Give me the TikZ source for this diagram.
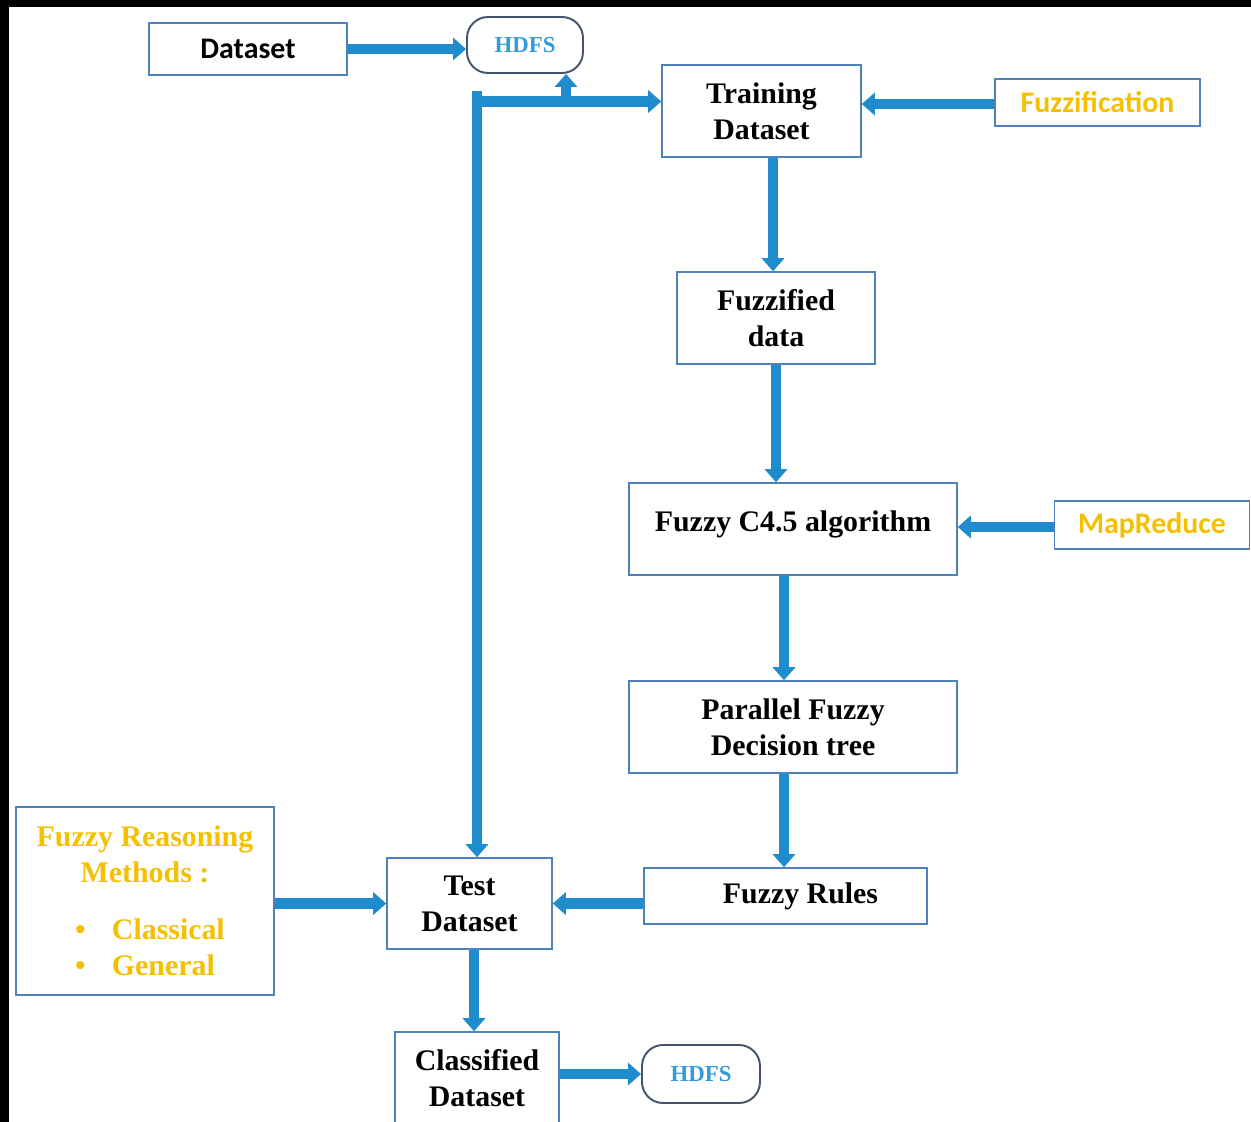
\documentclass[tikz,border=0pt]{standalone}
\usepackage{fontspec}
\setmainfont{Liberation Serif}
\newfontfamily\carlito{Carlito}
\usetikzlibrary{arrows.meta,calc}
\definecolor{arrowblue}{RGB}{30,140,205}
\definecolor{boxblue}{RGB}{79,129,189}
\definecolor{hdfsedge}{RGB}{68,84,106}
\definecolor{hdfstext}{RGB}{50,155,220}
\definecolor{fuzzyellow}{RGB}{245,192,0}
\begin{document}
\begin{tikzpicture}[x=0.02cm,y=-0.02cm,
 box/.style={draw=boxblue,line width=0.9pt,fill=white,inner sep=0pt,align=center,font=\fontsize{17}{20.5}\selectfont\bfseries},
 hdfs/.style={draw=hdfsedge,line width=1.1pt,rounded corners=0.42cm,fill=white,inner sep=0pt,font=\fontsize{13}{15}\selectfont\bfseries,text=hdfstext},
 flow/.style={draw=arrowblue,line width=0.21cm,-{Triangle[length=0.26cm,width=0.44cm]}},
 link/.style={draw=arrowblue,line width=0.21cm}]
\useasboundingbox (0,0) rectangle (1251,1122);
\fill[white] (0,0) rectangle (1251,1122);
\fill[black] (0,0) rectangle (1251,7);
\fill[black] (0,0) rectangle (9,1122);

% nodes
\node[box,minimum width=3.96cm,minimum height=1.04cm] (dataset) at (248,49) {\carlito Dataset};
\node[hdfs,minimum width=2.32cm,minimum height=1.12cm] (hdfsa) at (525,45) {HDFS};
\node[box,minimum width=3.98cm,minimum height=1.84cm] (train) at (761.5,111) {Training\\Dataset};
\node[box,minimum width=4.1cm,minimum height=0.94cm,text=fuzzyellow] (fuzz) at (1097.5,102.5) {\carlito Fuzzification};
\node[box,minimum width=3.96cm,minimum height=1.84cm] (fuzzified) at (776,318) {Fuzzified\\data};
\node[box,minimum width=6.56cm,minimum height=1.84cm] (c45) at (793,529) {\raisebox{0.3cm}{Fuzzy C4.5 algorithm}};
\node[box,minimum width=3.9cm,minimum height=0.96cm,text=fuzzyellow] (mapr) at (1152,525) {\raisebox{-0.1cm}{\carlito MapReduce}};
\node[box,minimum width=6.56cm,minimum height=1.84cm] (par) at (793,727) {Parallel Fuzzy\\Decision tree};
\node[box,minimum width=5.66cm,minimum height=1.12cm] (rules) at (785.5,896) {\hspace*{0.6cm}Fuzzy Rules};
\node[box,minimum width=3.3cm,minimum height=1.82cm] (test) at (469.5,903.5) {Test\\Dataset};
\node[box,minimum width=5.16cm,minimum height=3.76cm,text=fuzzyellow] (reason) at (145,901)
  {Fuzzy Reasoning\\Methods :\\[0.42cm]
   \makebox[4.4cm][l]{\hspace{0.8cm}\textbullet\hspace{0.53cm}Classical}\\
   \makebox[4.4cm][l]{\hspace{0.8cm}\textbullet\hspace{0.53cm}General}};
\node[box,minimum width=3.28cm,minimum height=1.84cm] (classified) at (477,1078) {Classified\\Dataset};
\node[hdfs,minimum width=2.36cm,minimum height=1.16cm] (hdfsb) at (701,1074) {HDFS};

% junction coordinates
\coordinate (vtop) at (477,91);
\coordinate (hj) at (477,101.5);
\coordinate (bj) at (566,101.5);

% connectors
\draw[flow] (dataset.east) -- (dataset.east -| hdfsa.west);
\draw[link] (vtop) -- (hj);
\draw[flow] (hj) -- (hj -| train.west);
\draw[flow] (bj) -- (bj |- hdfsa.south);
\draw[flow] (vtop) -- (vtop |- test.north);
\draw[flow] ([yshift=-0.03cm]fuzz.west) -- ([yshift=-0.03cm]fuzz.west -| train.east);
\draw[flow] ([xshift=0.23cm]train.south) -- ([xshift=0.23cm]train.south |- fuzzified.north);
\draw[flow] (fuzzified.south) -- (fuzzified.south |- c45.north);
\draw[flow] ([yshift=-0.04cm]mapr.west) -- ([yshift=-0.04cm]mapr.west -| c45.east);
\draw[flow] ([xshift=-0.18cm]c45.south) -- ([xshift=-0.18cm]c45.south |- par.north);
\draw[flow] ([xshift=-0.18cm]par.south) -- ([xshift=-0.18cm]par.south |- rules.north);
\draw[flow] (rules.west |- test.east) -- (test.east);
\draw[flow] (reason.east |- test.west) -- (test.west);
\draw[flow] ([xshift=0.09cm]test.south) -- ([xshift=0.09cm]test.south |- classified.north);
\draw[flow] (classified.east |- hdfsb.west) -- (hdfsb.west);
\end{tikzpicture}
\end{document}
